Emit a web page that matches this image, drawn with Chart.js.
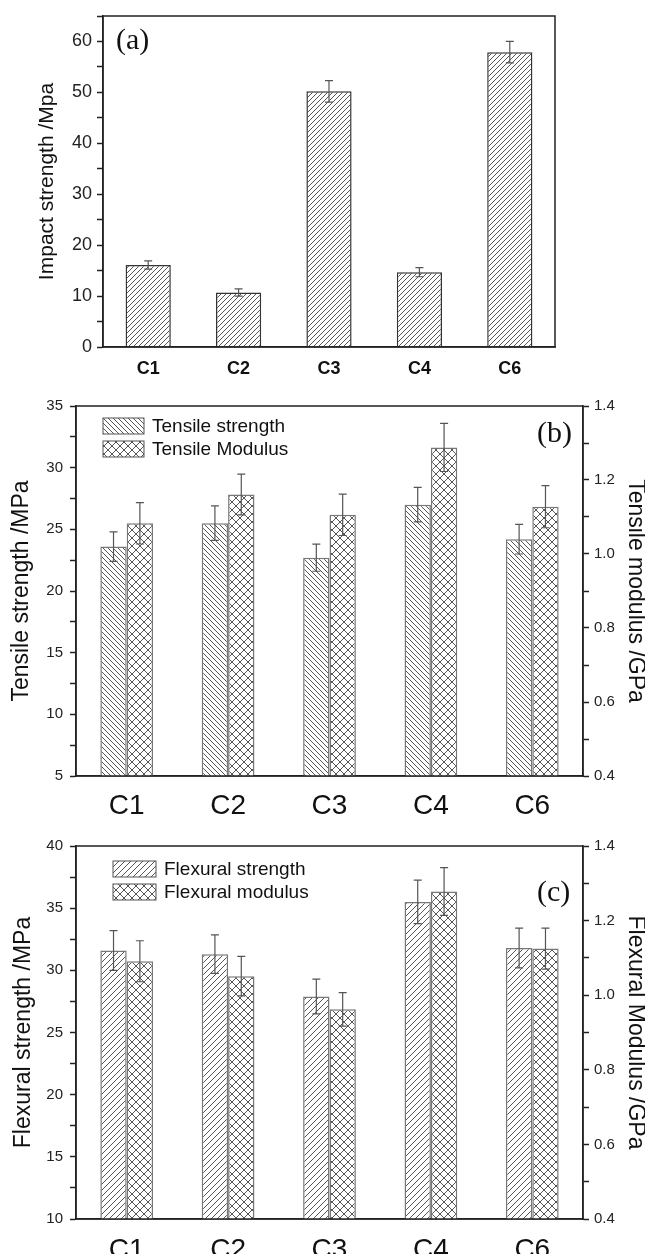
<!DOCTYPE html>
<html>
<head>
<meta charset="utf-8">
<script src="https://cdn.jsdelivr.net/npm/chart.js@4.4.1/dist/chart.umd.min.js"></script>
<style>
body { margin: 0; background: #fff; width: 645px; height: 1254px; position: relative; overflow: hidden; }
canvas { position: absolute; left: 0; }
</style>
</head>
<body>
<canvas id="chartA" width="645" height="400" style="top:0px"></canvas>
<canvas id="chartB" width="645" height="430" style="top:390px"></canvas>
<canvas id="chartC" width="645" height="424" style="top:830px"></canvas>
<script>
// Data
var categories = ['C1', 'C2', 'C3', 'C4', 'C6'];

var impact = [16.1, 10.7, 50.2, 14.7, 57.9];
var impactErr = [0.8, 0.7, 2.1, 0.9, 2.1];

var tensileStrength = [23.6, 25.5, 22.7, 27.0, 24.2];
var tensileStrengthErr = [1.2, 1.4, 1.1, 1.4, 1.2];
var tensileModulus = [1.083, 1.161, 1.106, 1.288, 1.128];
var tensileModulusErr = [0.056, 0.055, 0.056, 0.065, 0.057];

var flexStrength = [31.6, 31.3, 27.9, 35.5, 31.8];
var flexStrengthErr = [1.6, 1.55, 1.4, 1.75, 1.6];
var flexModulus = [1.091, 1.051, 0.962, 1.278, 1.125];
var flexModulusErr = [0.055, 0.053, 0.045, 0.064, 0.055];

Chart.defaults.font.family = "'Liberation Sans', Arial, sans-serif";
Chart.defaults.color = '#222';

// hatch fills like the Origin plot
function makeHatch(kind, size, color) {
    var c = document.createElement('canvas');
    c.width = c.height = size;
    var g = c.getContext('2d');
    g.fillStyle = '#fff';
    g.fillRect(0, 0, size, size);
    g.strokeStyle = color;
    g.lineWidth = 1;
    g.beginPath();
    if (kind === 'fwd' || kind === 'cross') {
        g.moveTo(0, size); g.lineTo(size, 0);
        g.moveTo(-size / 2, size / 2); g.lineTo(size / 2, -size / 2);
        g.moveTo(size / 2, size * 1.5); g.lineTo(size * 1.5, size / 2);
    }
    if (kind === 'back' || kind === 'cross') {
        g.moveTo(0, 0); g.lineTo(size, size);
        g.moveTo(-size / 2, size / 2); g.lineTo(size / 2, size * 1.5);
        g.moveTo(size / 2, -size / 2); g.lineTo(size * 1.5, size / 2);
    }
    g.stroke();
    return g.createPattern(c, 'repeat');
}

var frame = {
    id: 'frame',
    afterDraw: function(chart) {
        var a = chart.chartArea, ctx = chart.ctx;
        ctx.save();
        ctx.strokeStyle = '#222';
        ctx.lineWidth = 1.5;
        ctx.strokeRect(a.left, a.top, a.right - a.left, a.bottom - a.top);
        ctx.restore();
    }
};

var errorBars = {
    id: 'errorBars',
    afterDatasetsDraw: function(chart, args, opts) {
        var ctx = chart.ctx;
        ctx.save();
        ctx.strokeStyle = '#555';
        ctx.lineWidth = 1.2;
        chart.data.datasets.forEach(function(ds, i) {
            var errs = opts.errors[i];
            if (!errs) return;
            var meta = chart.getDatasetMeta(i);
            var ys = chart.scales[meta.yAxisID];
            meta.data.forEach(function(bar, j) {
                var yt = ys.getPixelForValue(ds.data[j] + errs[j]);
                var yb = ys.getPixelForValue(ds.data[j] - errs[j]);
                ctx.beginPath();
                ctx.moveTo(bar.x, yt); ctx.lineTo(bar.x, yb);
                ctx.moveTo(bar.x - 4, yt); ctx.lineTo(bar.x + 4, yt);
                ctx.moveTo(bar.x - 4, yb); ctx.lineTo(bar.x + 4, yb);
                ctx.stroke();
            });
        });
        ctx.restore();
    }
};

// panel tag and in-plot legend
var annotate = {
    id: 'annotate',
    afterDraw: function(chart, args, opts) {
        var a = chart.chartArea, ctx = chart.ctx;
        ctx.save();
        ctx.fillStyle = '#111';
        ctx.font = "30px 'Liberation Serif', 'Times New Roman', serif";
        ctx.textBaseline = 'middle';
        ctx.textAlign = 'left';
        var tx = opts.tagX >= 0 ? a.left + opts.tagX : a.right + opts.tagX;
        ctx.fillText(opts.tag, tx, a.top + opts.tagY);
        (opts.legend || []).forEach(function(item, k) {
            var bx = a.left + opts.legendX;
            var by = a.top + opts.legendY + k * opts.legendGap;
            ctx.fillStyle = item.fill;
            ctx.fillRect(bx, by, opts.boxW, opts.boxH);
            ctx.strokeStyle = '#555';
            ctx.lineWidth = 1;
            ctx.strokeRect(bx, by, opts.boxW, opts.boxH);
            ctx.fillStyle = '#111';
            ctx.font = "19px 'Liberation Sans', Arial, sans-serif";
            ctx.fillText(item.label, bx + opts.boxW + 8, by + opts.boxH / 2 + 1);
        });
        ctx.restore();
    }
};

function leftAxis(min, max, step, labelEvery, title, width, tickSize, titleSize, titlePad, tickPad) {
    return {
        position: 'left',
        min: min, max: max,
        ticks: {
            stepSize: step,
            includeBounds: false,
            font: { size: tickSize },
            color: '#222',
            padding: tickPad,
            callback: function(v) { return Math.round(v / step) % labelEvery === 0 ? v : ''; }
        },
        grid: { drawOnChartArea: false, tickLength: 6, color: '#222', tickWidth: 1.5 },
        border: { display: true, color: '#222', width: 1.5 },
        title: { display: true, text: title, font: { size: titleSize }, color: '#111', padding: { top: titlePad, bottom: 0 } },
        afterFit: function(s) { s.width = width; }
    };
}

function rightAxis(title, width) {
    return {
        position: 'right',
        min: 0.4, max: 1.4,
        ticks: {
            stepSize: 0.1,
            includeBounds: false,
            font: { size: 15 },
            color: '#222',
            padding: 5,
            callback: function(v) { return Math.round(v * 10) % 2 === 0 ? v.toFixed(1) : ''; }
        },
        grid: { drawOnChartArea: false, tickLength: 6, color: '#222', tickWidth: 1.5 },
        border: { display: true, color: '#222', width: 1.5 },
        title: { display: true, text: title, font: { size: 23 }, color: '#111', padding: { top: -4, bottom: 0 } },
        afterFit: function(s) { s.width = width; }
    };
}

function bottomAxis(height, fontSize, bold, pad) {
    return {
        offset: true,
        grid: { display: false },
        border: { display: true, color: '#222', width: 1.5 },
        ticks: { font: { size: fontSize, weight: bold ? 'bold' : 'normal' }, color: '#111', padding: pad },
        afterFit: function(s) { s.height = height; }
    };
}

var common = {
    responsive: false,
    animation: false,
    events: []
};

// (a) impact strength
var hatchA = makeHatch('fwd', 5, '#555');
new Chart(document.getElementById('chartA'), {
    type: 'bar',
    data: {
        labels: categories,
        datasets: [{
            data: impact,
            backgroundColor: hatchA,
            borderColor: '#333',
            borderWidth: 1.5,
            categoryPercentage: 0.5,
            barPercentage: 1
        }]
    },
    options: Object.assign({}, common, {
        layout: { padding: { top: 16, right: 90, left: 0, bottom: 0 } },
        scales: {
            x: bottomAxis(53, 18, true, 3),
            y: leftAxis(0, 65, 5, 2, 'Impact strength /Mpa', 103, 18, 21, 35, 5)
        },
        plugins: {
            legend: { display: false },
            tooltip: { enabled: false },
            errorBars: { errors: [impactErr] },
            annotate: { tag: '(a)', tagX: 13, tagY: 25 }
        }
    }),
    plugins: [frame, errorBars, annotate]
});

// (b) tensile
var hatchB1 = makeHatch('back', 5, '#555');
var hatchB2 = makeHatch('cross', 8, '#555');
new Chart(document.getElementById('chartB'), {
    type: 'bar',
    data: {
        labels: categories,
        datasets: [{
            label: 'Tensile strength',
            data: tensileStrength,
            yAxisID: 'y',
            backgroundColor: hatchB1,
            borderColor: '#777',
            borderWidth: 1.5,
            categoryPercentage: 0.52,
            barPercentage: 1
        }, {
            label: 'Tensile Modulus',
            data: tensileModulus,
            yAxisID: 'y2',
            backgroundColor: hatchB2,
            borderColor: '#777',
            borderWidth: 1.5,
            categoryPercentage: 0.52,
            barPercentage: 1
        }]
    },
    options: Object.assign({}, common, {
        layout: { padding: { top: 15, right: 0, left: 0, bottom: 0 } },
        scales: {
            x: bottomAxis(44, 28, false, 5),
            y: leftAxis(5, 35, 2.5, 2, 'Tensile strength /MPa', 76, 15, 23, 8, 7),
            y2: rightAxis('Tensile modulus /GPa', 62)
        },
        plugins: {
            legend: { display: false },
            tooltip: { enabled: false },
            errorBars: { errors: [tensileStrengthErr, tensileModulusErr] },
            annotate: {
                tag: '(b)', tagX: -46, tagY: 28,
                legend: [
                    { label: 'Tensile strength', fill: hatchB1 },
                    { label: 'Tensile Modulus', fill: hatchB2 }
                ],
                legendX: 27, legendY: 12, legendGap: 23, boxW: 41, boxH: 16
            }
        }
    }),
    plugins: [frame, errorBars, annotate]
});

// (c) flexural
var hatchC1 = makeHatch('fwd', 6, '#555');
var hatchC2 = makeHatch('cross', 8, '#555');
new Chart(document.getElementById('chartC'), {
    type: 'bar',
    data: {
        labels: categories,
        datasets: [{
            label: 'Flexural strength',
            data: flexStrength,
            yAxisID: 'y',
            backgroundColor: hatchC1,
            borderColor: '#777',
            borderWidth: 1.5,
            categoryPercentage: 0.52,
            barPercentage: 1
        }, {
            label: 'Flexural modulus',
            data: flexModulus,
            yAxisID: 'y2',
            backgroundColor: hatchC2,
            borderColor: '#777',
            borderWidth: 1.5,
            categoryPercentage: 0.52,
            barPercentage: 1
        }]
    },
    options: Object.assign({}, common, {
        layout: { padding: { top: 15, right: 0, left: 0, bottom: 0 } },
        scales: {
            x: bottomAxis(35, 28, false, 6),
            y: leftAxis(10, 40, 2.5, 2, 'Flexural strength /MPa', 76, 15, 23, 10, 7),
            y2: rightAxis('Flexural Modulus /GPa', 62)
        },
        plugins: {
            legend: { display: false },
            tooltip: { enabled: false },
            errorBars: { errors: [flexStrengthErr, flexModulusErr] },
            annotate: {
                tag: '(c)', tagX: -46, tagY: 47,
                legend: [
                    { label: 'Flexural strength', fill: hatchC1 },
                    { label: 'Flexural modulus', fill: hatchC2 }
                ],
                legendX: 37, legendY: 15, legendGap: 23, boxW: 43, boxH: 16
            }
        }
    }),
    plugins: [frame, errorBars, annotate]
});
</script>
</body>
</html>
